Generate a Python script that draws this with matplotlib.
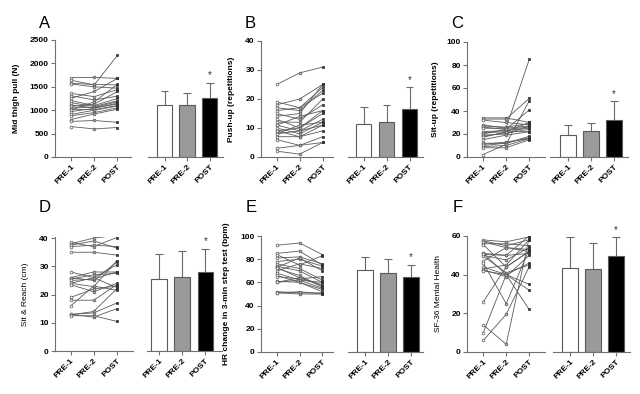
import matplotlib
matplotlib.use("Agg")
import matplotlib.pyplot as plt
import numpy as np

plt.rcParams['font.family'] = ['Liberation Sans', 'DejaVu Sans']

# ---------------- data ----------------
groups = ["PRE-1", "PRE-2", "POST"]

a_pre1 = [1695, 1640, 1575, 1560, 1360, 1310, 1255, 1205, 1160, 1110, 1080, 1050, 1020, 1000, 970, 910, 880, 800, 760, 650]
a_pre2 = [1700, 1540, 1550, 1500, 1290, 1220, 1400, 1100, 1080, 1050, 1130, 1060, 1010, 1180, 1040, 1000, 950, 920, 780, 600]
a_post = [1680, 2170, 1540, 1470, 1440, 1300, 1680, 1250, 1200, 1130, 1400, 1180, 1100, 1550, 1150, 1090, 1050, 1020, 740, 630]
a_mean = [1120, 1110, 1255]
a_sd = [290, 260, 335]

b_pre1 = [25, 19, 18, 17, 16, 15, 14, 13, 12, 11, 11, 10, 9, 9, 8, 8, 7, 6, 3, 2]
b_pre2 = [29, 17, 20, 16, 17, 13, 15, 10, 12, 9, 14, 8, 10, 7, 11, 9, 7, 4, 4, 1]
b_post = [31, 24, 25, 23, 22, 18, 25, 16, 20, 13, 16, 12, 15, 11, 12, 11, 9, 7, 5, 5]
b_mean = [11.5, 12.0, 16.7]
b_sd = [5.6, 5.9, 7.3]

c_pre1 = [34, 33, 32, 28, 27, 26, 25, 22, 21, 20, 19, 18, 17, 15, 12, 11, 10, 9, 8, 2]
c_pre2 = [34, 33, 30, 25, 26, 24, 25, 23, 22, 24, 20, 21, 22, 19, 12, 13, 12, 10, 8, 11]
c_post = [30, 51, 28, 27, 29, 26, 85, 25, 22, 41, 27, 24, 30, 22, 17, 16, 18, 16, 15, 49]
c_mean = [19.3, 22.5, 32.0]
c_sd = [8.4, 6.9, 16.4]

d_pre1 = [38.5, 38, 37.5, 37, 35, 28, 26, 26, 25.5, 25, 24, 24, 23.5, 19, 18, 16, 13, 13, 12.8, 12.5]
d_pre2 = [37, 40, 39, 37.5, 35, 26, 28, 25, 27, 25.5, 22.8, 26, 21, 22, 18, 23, 13.5, 12, 14, 12.5]
d_post = [40.2, 41, 36.5, 37, 34, 30.5, 28, 31.5, 27.5, 28, 32, 22.5, 24, 23, 23.5, 21.5, 17, 15, 22, 10.5]
d_mean = [25.4, 26.2, 28.0]
d_sd = [8.9, 9.1, 8.3]

e_pre1 = [92, 85, 84, 81, 78, 76, 74, 73, 73, 72, 70, 68, 66, 65, 61, 60, 60, 52, 51, 51]
e_pre2 = [94, 87, 75, 82, 80, 72, 70, 81, 64, 66, 76, 62, 60, 63, 60, 62, 64, 51, 50, 52]
e_post = [84, 75, 83, 76, 74, 62, 60, 70, 58, 56, 72, 55, 52, 65, 54, 60, 57, 51, 50, 50]
e_mean = [70.4, 68.4, 65.0]
e_sd = [11.2, 11.8, 10.3]

f_pre1 = [58, 57.5, 57, 56, 55.5, 51, 51, 50, 49.5, 47, 46, 44, 43, 42.5, 42, 26, 14, 10, 6, 50.5]
f_pre2 = [57, 55, 54, 56, 44, 50, 40, 47.6, 41, 54, 25, 40, 45, 39, 40, 44, 4, 40, 19.5, 50]
f_post = [59.5, 58, 53, 55, 52, 51, 35, 54, 45, 52, 53, 22, 58, 50, 46, 52, 59, 32, 44, 60]
f_mean = [43.6, 42.9, 49.7]
f_sd = [15.9, 13.7, 9.8]

panels = [
    dict(letter="A", ylabel="Mid thigh pull (N)", series=(a_pre1, a_pre2, a_post), mean=a_mean, sd=a_sd,
         yticks=[0, 500, 1000, 1500, 2000, 2500], ylim=2500),
    dict(letter="B", ylabel="Push-up (repetitions)", series=(b_pre1, b_pre2, b_post), mean=b_mean, sd=b_sd,
         yticks=[0, 10, 20, 30, 40], ylim=40),
    dict(letter="C", ylabel="Sit-up (repetitions)", series=(c_pre1, c_pre2, c_post), mean=c_mean, sd=c_sd,
         yticks=[0, 20, 40, 60, 80, 100], ylim=100),
    dict(letter="D", ylabel="Sit & Reach (cm)", series=(d_pre1, d_pre2, d_post), mean=d_mean, sd=d_sd,
         yticks=[0, 10, 20, 30, 40], ylim=40.4, lab_bold=False),
    dict(letter="E", ylabel="HR change in 3-min step test (bpm)", series=(e_pre1, e_pre2, e_post), mean=e_mean, sd=e_sd,
         yticks=[0, 20, 40, 60, 80, 100], ylim=100),
    dict(letter="F", ylabel="SF-36 Mental Health", series=(f_pre1, f_pre2, f_post), mean=f_mean, sd=f_sd,
         yticks=[0, 20, 40, 60], ylim=60, lab_bold=False),
]

# ---------------- layout (pixels) ----------------
W, H = 640, 394
fig = plt.figure(figsize=(W / 100, H / 100), dpi=100)
fig.patch.set_facecolor("white")

# per panel: line axes (left, right, first centre, spacing), bar axes (left, right, first centre, spacing), top, bottom, label x, letter x,y
layout = [
    dict(line=(55, 131, 71, 23.2), bar=(148, 223, 164.5, 22.6), top=40, bot=157, labx=20, let=(39, 23)),
    dict(line=(261, 333, 276.7, 23.0), bar=(348, 423, 363.7, 22.9), top=41, bot=157, labx=235, let=(245, 23)),
    dict(line=(467, 545, 482.7, 23.3), bar=(550, 628, 567.8, 23.0), top=42, bot=157, labx=439, let=(451, 23)),
    dict(line=(55, 133, 70.7, 23.0), bar=(147, 222, 159.2, 23.1), top=237, bot=351, labx=29, let=(39, 207)),
    dict(line=(261, 333, 276.7, 22.8), bar=(348, 423, 364.8, 23.0), top=236, bot=352, labx=230, let=(246, 207)),
    dict(line=(467, 545, 483.3, 22.9), bar=(553, 630, 570.0, 22.9), top=236, bot=352, labx=442, let=(453, 207)),
]

SP = "#707070"
TICKFS = 6.0


def make_ax(l, r, c0, s, top, bot):
    ax = fig.add_axes([l / W, 1 - bot / H, (r - l) / W, (bot - top) / H])
    ax.set_xlim((l - c0) / s, (r - c0) / s)
    return ax


def style(ax, show_left=True):
    for side in ["top", "right"]:
        ax.spines[side].set_visible(False)
    ax.spines["left"].set_visible(show_left)
    for side in ["left", "bottom"]:
        ax.spines[side].set_color(SP)
        ax.spines[side].set_linewidth(0.8)
    ax.tick_params(axis="both", direction="out", length=3, width=0.8, color=SP,
                   labelsize=TICKFS, pad=1.5)
    ax.set_xticks([0, 1, 2])
    ax.set_xticklabels(groups, rotation=45, ha="right", rotation_mode="anchor",
                       fontweight="bold", fontsize=TICKFS)
    if not show_left:
        ax.tick_params(axis="y", left=False, labelleft=False)
    ax.patch.set_alpha(0)


x = np.arange(3)
for p, lay in zip(panels, layout):
    # ---- individual lines ----
    ax = make_ax(*lay["line"], lay["top"], lay["bot"])
    style(ax)
    ymax = p["ylim"]
    ax.set_ylim(0, ymax)
    ax.set_yticks(p["yticks"])
    for lab in ax.get_yticklabels():
        lab.set_fontweight("bold")
    s1, s2, s3 = p["series"]
    for v1, v2, v3 in zip(s1, s2, s3):
        ax.plot(x, [v1, v2, v3], color="#5a5a5a", lw=0.6, zorder=2)
    ax.scatter(np.zeros(len(s1)), s1, s=4, marker="o", facecolor="white", edgecolor="#555555", lw=0.5, zorder=3)
    ax.scatter(np.ones(len(s2)), s2, s=4, marker="o", facecolor="#b0b0b0", edgecolor="#555555", lw=0.5, zorder=3)
    ax.scatter(np.full(len(s3), 2), s3, s=4, marker="s", facecolor="#333333", edgecolor="#333333", lw=0.5, zorder=3)
    l = lay["line"][0]
    r = lay["line"][1]
    ax.set_ylabel(p["ylabel"], fontsize=6.0,
                  fontweight="bold" if p.get("lab_bold", True) else "normal")
    ax.yaxis.set_label_coords((lay["labx"] - l) / (r - l), 0.5)
    fig.text(lay["let"][0] / W, 1 - lay["let"][1] / H, p["letter"], fontsize=12,
             ha="left", va="center")

    # ---- bars ----
    bx = make_ax(*lay["bar"], lay["top"], lay["bot"])
    style(bx, show_left=False)
    bx.set_ylim(0, ymax)
    means = np.array(p["mean"])
    sds = np.array(p["sd"])
    bx.vlines(x, means, means + sds, color="#6a6a6a", lw=0.8, zorder=1)
    bx.hlines(means + sds, x - 0.17, x + 0.17, color="#6a6a6a", lw=0.8, zorder=1)
    bx.bar(x, means, width=0.68, color=["white", "#9a9a9a", "black"],
           edgecolor="#5a5a5a", lw=0.8, zorder=2)
    bx.annotate("*", (x[2], means[2] + sds[2]), xytext=(0, 1.5), textcoords="offset points",
                ha="center", va="bottom", fontsize=7, color="#333333")

fig.savefig("out.png", dpi=100, facecolor="white")
